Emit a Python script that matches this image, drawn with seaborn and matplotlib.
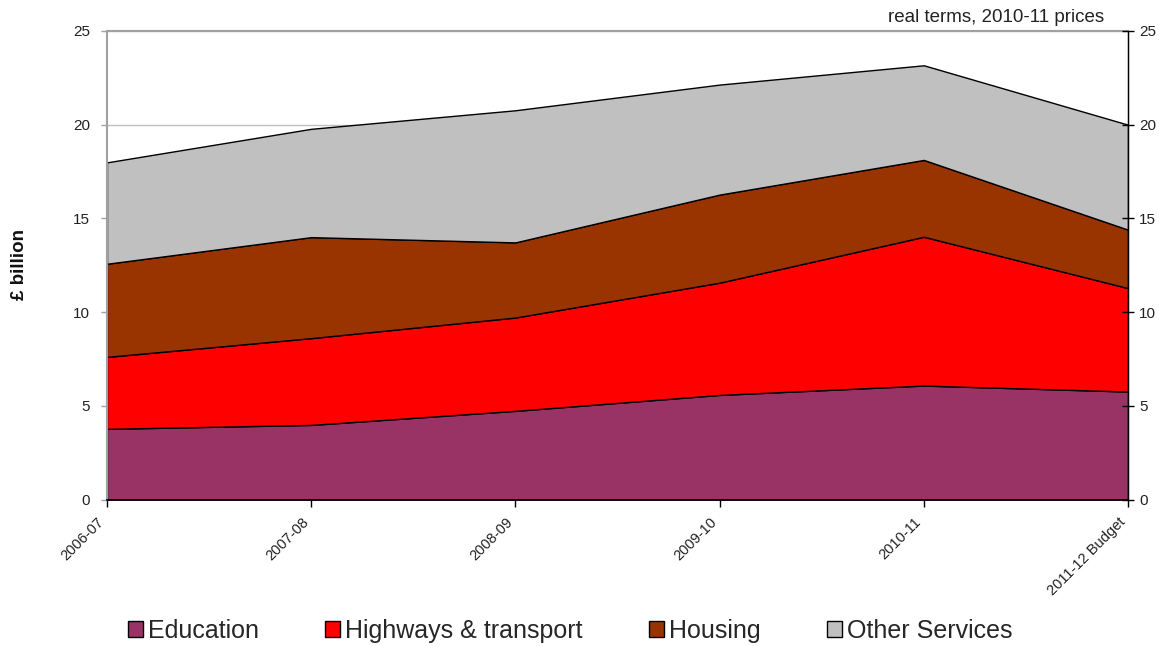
import matplotlib
matplotlib.use("Agg")
import matplotlib.pyplot as plt
from matplotlib.patches import Patch
from matplotlib.transforms import ScaledTranslation
import seaborn as sns
import numpy as np

years = ["2006-07", "2007-08", "2008-09", "2009-10", "2010-11", "2011-12 Budget"]
education = [3.77, 3.98, 4.73, 5.58, 6.08, 5.76]
highways = [3.84, 4.63, 4.98, 5.99, 7.94, 5.52]
housing = [4.97, 5.39, 4.01, 4.70, 4.10, 3.12]
other = [5.41, 5.78, 7.05, 5.87, 5.05, 5.60]
series_names = ["Education", "Highways & transport", "Housing", "Other Services"]
colors = ["#993366", "#FF0000", "#993300", "#C0C0C0"]
yticks = [0, 5, 10, 15, 20, 25]

sns.set_style("white")
plt.rcParams['font.family'] = ['Liberation Sans', 'DejaVu Sans']

fig = plt.figure(figsize=(11.59, 6.46), dpi=100)
ax = fig.add_axes([107/1159, 1 - 499.5/646, (1128-107)/1159, (499.5-31)/646])

x = np.arange(len(years))
ax.set_axisbelow(True)
ax.yaxis.grid(True, color="#c0c0c0", linewidth=1)
ax.stackplot(x, education, highways, housing, other, colors=colors,
             edgecolor="black", linewidth=1, zorder=2)

ax.set_xlim(0, len(years) - 1)
ax.set_ylim(0, 25)
ax.set_yticks(yticks)
ax.set_yticklabels([str(v) for v in yticks], fontsize=11, color="#222222")
ax.set_xticks(x)
ax.set_xticklabels(years, rotation=45, ha="right", va="center", rotation_mode="anchor",
                   fontsize=10.5, color="#222222")
ax.tick_params(axis="x", direction="out", length=5, color="black", width=1, pad=12, bottom=True)
ax.tick_params(axis="y", direction="out", length=4, color="#a0a0a0", width=1, pad=8, left=True)
offset = ScaledTranslation(-0.05, 0.03, fig.dpi_scale_trans)
for lbl in ax.get_xticklabels():
    lbl.set_transform(lbl.get_transform() + offset)

for s in ["left", "top"]:
    ax.spines[s].set_color("#a0a0a0")
    ax.spines[s].set_linewidth(1.5)
ax.spines["bottom"].set_color("black")
ax.spines["bottom"].set_linewidth(1.2)
ax.spines["right"].set_color("black")
ax.spines["right"].set_linewidth(1)

ax2 = ax.twinx()
ax2.set_ylim(0, 25)
ax2.set_yticks(yticks)
ax2.set_yticklabels([str(v) for v in yticks], fontsize=11, color="#222222")
ax2.tick_params(axis="y", direction="inout", length=8, color="black", width=1, pad=4, right=True)
for s in ["left", "top", "bottom"]:
    ax2.spines[s].set_visible(False)
ax2.spines["right"].set_color("black")

fig.text(19/1159, 1 - 264/646, "£ billion", rotation=90, ha="center", va="center",
         fontsize=13.5, fontweight="bold", color="#111111")

fig.text(1104/1159, 1 - 22/646, "real terms, 2010-11 prices", ha="right", va="baseline",
         fontsize=13.5, color="#222222")

handles = [Patch(facecolor=c, edgecolor="black", linewidth=1) for c in colors]
fig.legend(handles, series_names, loc="center", bbox_to_anchor=(0.492, 1 - 631/646),
           ncol=4, frameon=False, fontsize=18, handlelength=0.6, handleheight=0.6,
           handletextpad=0.2, columnspacing=2.65, borderpad=0)

fig.savefig("out.png", dpi=100)
